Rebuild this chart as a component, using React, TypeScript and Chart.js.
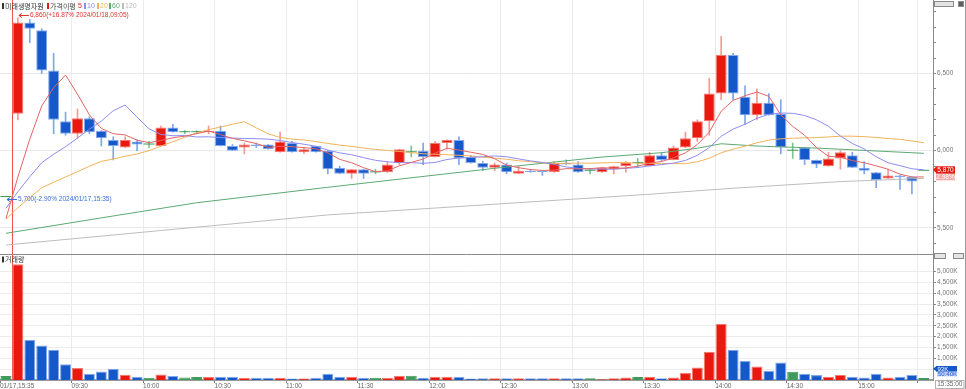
import React, { useEffect, useRef } from "react";
import { Chart, registerables } from "chart.js";

Chart.register(...registerables);

// ---------------- data ----------------
const TIME_LABELS = [
  "01/17,15:35",
  "09:05", "09:10", "09:15", "09:20", "09:25", "09:30", "09:35", "09:40", "09:45", "09:50", "09:55",
  "10:00", "10:05", "10:10", "10:15", "10:20", "10:25", "10:30", "10:35", "10:40", "10:45", "10:50", "10:55",
  "11:00", "11:05", "11:10", "11:15", "11:20", "11:25", "11:30", "11:35", "11:40", "11:45", "11:50", "11:55",
  "12:00", "12:05", "12:10", "12:15", "12:20", "12:25", "12:30", "12:35", "12:40", "12:45", "12:50", "12:55",
  "13:00", "13:05", "13:10", "13:15", "13:20", "13:25", "13:30", "13:35", "13:40", "13:45", "13:50", "13:55",
  "14:00", "14:05", "14:10", "14:15", "14:20", "14:25", "14:30", "14:35", "14:40", "14:45", "14:50", "14:55",
  "15:00", "15:05", "15:10", "15:15", "15:20", "15:30",
];

const OPEN = [
  5700, 6240, 6830, 6780, 6520, 6190, 6110, 6210, 6130, 6070,
  6020, 6060, 6040, 6030, 6150, 6120, 6120, 6120, 6130, 6030,
  6020, 6040, 6040, 5990, 6050, 5990, 6030, 6000, 5890, 5850,
  5880, 5860, 5860, 5920, 5990, 6000, 5960, 6050, 6070, 5960,
  5920, 5890, 5910, 5850, 5870, 5870, 5860, 5920, 5910, 5870,
  5860, 5880, 5900, 5920, 5900, 5970, 5940, 6020, 6080, 6190,
  6370, 6620, 6350, 6230, 6310, 6240, 6000, 6020, 5940, 5900,
  5950, 5970, 5890, 5860, 5820, 5840, 5830, 5870,
];
const HIGH = [
  5700, 6860, 6850, 6790, 6630, 6250, 6270, 6220, 6130, 6090,
  6090, 6070, 6060, 6160, 6170, 6130, 6130, 6160, 6160, 6040,
  6050, 6050, 6040, 6120, 6060, 6020, 6030, 6000, 5900, 5880,
  5880, 5880, 5930, 6010, 6030, 6050, 6060, 6070, 6090, 5970,
  5930, 5920, 5920, 5900, 5880, 5870, 5930, 5940, 5930, 5880,
  5890, 5900, 5930, 5950, 5990, 5990, 6030, 6120, 6200, 6470,
  6740, 6630, 6420, 6400, 6370, 6330, 6050, 6020, 5940, 5990,
  6000, 5990, 5930, 5860, 5880, 5840, 5830, 5870,
];
const LOW = [
  5700, 6200, 6700, 6500, 6110, 6100, 6080, 6110, 6030, 5940,
  6020, 6000, 6020, 6030, 6120, 6110, 6110, 6110, 6030, 6000,
  5980, 6020, 6010, 5990, 5990, 5980, 5990, 5850, 5850, 5820,
  5820, 5850, 5860, 5910, 5960, 5910, 5960, 6010, 5910, 5920,
  5870, 5870, 5850, 5850, 5860, 5840, 5860, 5910, 5860, 5850,
  5860, 5850, 5860, 5890, 5900, 5930, 5940, 6020, 6060, 6100,
  6330, 6330, 6170, 6200, 6230, 5980, 5950, 5910, 5890, 5900,
  5880, 5890, 5850, 5760, 5820, 5750, 5720, 5870,
];
const CLOSE = [
  5700, 6830, 6790, 6520, 6200, 6110, 6210, 6120, 6080, 6030,
  6070, 6040, 6040, 6150, 6120, 6120, 6120, 6130, 6030, 6000,
  6040, 6030, 6010, 6060, 5990, 6010, 5990, 5880, 5850, 5880,
  5850, 5860, 5910, 6010, 5990, 5960, 6050, 6070, 5950, 5920,
  5890, 5910, 5860, 5870, 5860, 5860, 5920, 5910, 5860, 5870,
  5890, 5900, 5920, 5920, 5970, 5940, 6020, 6080, 6190, 6370,
  6620, 6370, 6230, 6310, 6230, 6020, 6000, 5940, 5910, 5950,
  5990, 5890, 5870, 5810, 5840, 5830, 5800, 5870,
];
// volume in thousands of shares
const VOLUME_K = [
  190, 5330, 1850, 1590, 1390, 730, 550, 285, 390, 515,
  240, 150, 100, 255, 180, 115, 135, 135, 150, 150,
  100, 100, 100, 100, 70, 70, 100, 285, 150, 150,
  100, 100, 100, 195, 195, 100, 150, 150, 150, 70,
  80, 80, 80, 80, 80, 80, 80, 80, 80, 80,
  40, 80, 115, 135, 135, 85, 115, 320, 575, 1300,
  2585, 1390, 870, 620, 425, 805, 375, 285, 225, 150,
  225, 150, 115, 285, 115, 150, 225, 93,
];
const MA5 = [
  5560, 5830, 6075, 6290, 6408, 6490, 6366, 6232, 6144, 6110,
  6102, 6068, 6052, 6066, 6084, 6094, 6110, 6128, 6104, 6080,
  6064, 6046, 6022, 6028, 6026, 6020, 6012, 5986, 5944, 5922,
  5890, 5864, 5870, 5902, 5924, 5946, 5984, 6016, 6004, 5990,
  5976, 5948, 5906, 5890, 5878, 5872, 5874, 5884, 5882, 5884,
  5890, 5886, 5888, 5900, 5920, 5930, 5954, 5986, 6040, 6120,
  6256, 6326, 6356, 6380, 6352, 6232, 6158, 6100, 6020, 5964,
  5958, 5936, 5922, 5902, 5880, 5848, 5830, 5830,
];
const MA10 = [
  5627, 5734, 5832, 5922, 5977, 6026, 6082, 6139, 6192, 6259,
  6296, 6217, 6142, 6105, 6097, 6098, 6089, 6090, 6085, 6082,
  6079, 6078, 6075, 6066, 6053, 6042, 6029, 6004, 5986, 5974,
  5955, 5938, 5928, 5923, 5923, 5918, 5924, 5943, 5953, 5957,
  5961, 5966, 5961, 5947, 5934, 5924, 5911, 5895, 5886, 5881,
  5881, 5880, 5886, 5891, 5902, 5910, 5920, 5937, 5970, 6020,
  6093, 6140, 6171, 6210, 6236, 6244, 6242, 6228, 6200, 6158,
  6095, 6047, 6011, 5961, 5922, 5903, 5883, 5876,
];
const MA20 = [
  5556, 5631, 5696, 5760, 5795, 5830, 5864, 5899, 5931, 5946,
  5964, 5979, 6000, 6030, 6058, 6087, 6115, 6136, 6153, 6171,
  6188, 6148, 6109, 6086, 6075, 6070, 6059, 6047, 6036, 6028,
  6017, 6008, 6002, 5995, 5988, 5980, 5977, 5974, 5970, 5966,
  5958, 5952, 5945, 5935, 5929, 5921, 5918, 5919, 5920, 5919,
  5921, 5923, 5924, 5919, 5918, 5917, 5916, 5916, 5928, 5951,
  5987, 6010, 6029, 6051, 6069, 6077, 6081, 6083, 6085, 6089,
  6094, 6094, 6091, 6086, 6079, 6074, 6063, 6052,
];
// long averages read at sample bars
const MA60_IDX = [0, 8, 16, 27, 41, 50, 55, 58, 60, 63, 68, 77];
const MA60_VAL = [5465, 5565, 5663, 5763, 5886, 5959, 5987, 6016, 6045, 6030, 6017, 5983];
const MA120_IDX = [0, 13, 27, 54, 61, 70, 77];
const MA120_VAL = [5389, 5483, 5584, 5718, 5757, 5800, 5821];

const X_TICK_INDEX = [0, 6, 12, 18, 24, 30, 36, 42, 48, 54, 60, 66, 72, 77];
const PRICE_TICKS = [5400, 5500, 5600, 5700, 5800, 5900, 6000, 6100, 6200, 6300, 6400, 6500, 6600, 6700, 6800, 6900];
const PRICE_LABELED = [5500, 6000, 6500];
const VOLUME_TICKS = [500, 1000, 1500, 2000, 2500, 3000, 3500, 4000, 4500, 5000];
const STOCK_NAME = "미래생명자원";
const MA_LABEL = "가격이평";
const MA_PERIODS = ["5", "10", "20", "60", "120"];
const VOLUME_LABEL = "거래량";
const HIGH_NOTE = "6,860(+16.87% 2024/01/18,09:05)";
const LOW_NOTE = "5,700(-2.90% 2024/01/17,15:35)";
const HIGH_NOTE_IDX = 1;
const LOW_NOTE_IDX = 0;
const LAST_PRICE_TEXT = "5,870";
const LAST_RATE_TEXT = "2.98%";
const LAST_VOL_TEXT = "93K";
const VOL_AVG_TEXT = "50.40K";
const CURRENT_TIME = "15:35:00";

// ---------------- styles ----------------
const FONT_NUM = '"Liberation Sans", Arial, sans-serif';
const FONT_KR = '"Noto Sans CJK KR", "Noto Sans", sans-serif';
const FILL = ["#e8190f", "#1558c9", "#3f9a5c"];
const EDGE = ["#f47a70", "#84a8ec", "#3f9a5c"];
const WICK = ["#f39a94", "#7fa6ea", "#7fc292"];
const MA_COLORS = ["#e46464", "#8c8cf2", "#f2b35a", "#5caa72", "#bdbdbd"];

const kindOf = (i: number) => (CLOSE[i] > OPEN[i] ? 0 : CLOSE[i] < OPEN[i] ? 1 : 2);
const fmt = (v: number) => v.toLocaleString("en-US");

function label(ctx: CanvasRenderingContext2D, s: string, x: number, y: number, color: string, font: string, align: CanvasTextAlign = "left") {
  ctx.font = font;
  ctx.fillStyle = color;
  ctx.textAlign = align;
  ctx.textBaseline = "middle";
  ctx.fillText(s, x, y);
}

function arrow(ctx: CanvasRenderingContext2D, tipX: number, y: number, len: number, color: string) {
  ctx.strokeStyle = color;
  ctx.lineWidth = 1;
  ctx.beginPath();
  ctx.moveTo(tipX, y + 0.5);
  ctx.lineTo(tipX + len, y + 0.5);
  ctx.moveTo(tipX + 3, y - 2 + 0.5);
  ctx.lineTo(tipX, y + 0.5);
  ctx.lineTo(tipX + 3, y + 2 + 0.5);
  ctx.stroke();
}

const overlayPlugin = {
  id: "overlay",
  beforeDatasetsDraw(chart: any) {
    const { ctx, chartArea: a, scales } = chart;
    const dx = Math.round(scales.x.getPixelForValue(0.5)) + 0.5;
    ctx.save();
    ctx.strokeStyle = "#f05050";
    ctx.lineWidth = 1;
    ctx.beginPath();
    ctx.moveTo(dx, a.top);
    ctx.lineTo(dx, a.bottom);
    ctx.stroke();
    ctx.restore();
  },
  afterDraw(chart: any) {
    const { ctx, chartArea: a, scales } = chart;
    const xs = scales.x;
    const ys = scales.y;
    ctx.save();
    // panel separator
    const sep = Math.round(ys.bottom) + 0.5;
    ctx.strokeStyle = "#8a8a8a";
    ctx.lineWidth = 1;
    ctx.beginPath();
    ctx.moveTo(a.left, sep);
    ctx.lineTo(a.right, sep);
    ctx.stroke();
    // right border
    ctx.strokeStyle = "#9a9a9a";
    ctx.beginPath();
    ctx.moveTo(965.5, 0);
    ctx.lineTo(965.5, 389);
    ctx.stroke();

    // legend
    const fk = `7px ${FONT_KR}`;
    const fn = `7px ${FONT_NUM}`;
    const ly = 6;
    ctx.fillStyle = "#333";
    ctx.fillRect(2, 3, 2, 6);
    label(ctx, STOCK_NAME, 5, ly, "#333", fk);
    ctx.fillStyle = FILL[0];
    ctx.fillRect(47, 3, 2, 6);
    label(ctx, MA_LABEL, 50, ly, "#444", fk);
    const px = [78, 87, 100, 112, 125];
    MA_PERIODS.forEach((p, k) => {
      if (k > 0) {
        ctx.fillStyle = MA_COLORS[k];
        ctx.fillRect(px[k] - 3, 3, 2, 6);
      }
      label(ctx, p, px[k], ly, k === 0 ? FILL[0] : MA_COLORS[k], fn);
    });
    // volume title
    const vy = sep + 5;
    ctx.fillStyle = "#333";
    ctx.fillRect(2, vy - 3, 2, 6);
    label(ctx, VOLUME_LABEL, 5, vy, "#333", fk);

    // high / low notes
    const fa = `6.5px ${FONT_NUM}`;
    const hx = xs.getPixelForValue(HIGH_NOTE_IDX) + 1;
    const hy = Math.round(ys.getPixelForValue(HIGH[HIGH_NOTE_IDX]) - 3);
    arrow(ctx, hx, hy, 10, "#e0322a");
    label(ctx, HIGH_NOTE, hx + 11, hy + 0.5, "#e0322a", fa);
    const lx = xs.getPixelForValue(LOW_NOTE_IDX) + 1;
    const lyy = Math.round(ys.getPixelForValue(LOW[LOW_NOTE_IDX]) + 2);
    arrow(ctx, lx, lyy, 10, "#3a6fd8");
    label(ctx, LOW_NOTE, lx + 11, lyy + 0.5, "#3a6fd8", fa);

    // last price boxes
    const cy = ys.getPixelForValue(CLOSE[CLOSE.length - 1]) - 1;
    ctx.fillStyle = FILL[0];
    ctx.fillRect(936, cy - 3.5, 19, 7.5);
    ctx.beginPath();
    ctx.moveTo(933, cy);
    ctx.lineTo(936, cy - 3);
    ctx.lineTo(936, cy + 3);
    ctx.closePath();
    ctx.fill();
    label(ctx, LAST_PRICE_TEXT, 945.5, cy + 0.3, "#fff", `6.5px ${FONT_NUM}`, "center");
    ctx.fillStyle = "#f4a8a8";
    ctx.fillRect(936, cy + 4, 19, 6.5);
    label(ctx, LAST_RATE_TEXT, 945.5, cy + 7.3, "#fff", `6.5px ${FONT_NUM}`, "center");

    // volume boxes
    ctx.fillStyle = FILL[1];
    ctx.fillRect(936, 366, 21, 5.7);
    ctx.beginPath();
    ctx.moveTo(933, 368.8);
    ctx.lineTo(936, 366.5);
    ctx.lineTo(936, 371);
    ctx.closePath();
    ctx.fill();
    label(ctx, LAST_VOL_TEXT, 937.5, 369, "#fff", `6px ${FONT_NUM}`);
    ctx.fillStyle = "#bcd0f4";
    ctx.fillRect(937, 371.8, 20, 4.6);
    label(ctx, VOL_AVG_TEXT, 938, 374.2, "#2f63cf", `6px ${FONT_NUM}`);

    // time box
    ctx.fillStyle = "#fff";
    ctx.fillRect(935.5, 380.5, 28.5, 8);
    ctx.strokeStyle = "#b0b0b0";
    ctx.strokeRect(935.5, 380.5, 28.5, 8);
    label(ctx, CURRENT_TIME, 949.8, 384.6, "#666", `6.5px ${FONT_NUM}`, "center");

    // small panel buttons
    const btn = (x: number, y: number, w: number, h: number, fill: string) => {
      ctx.fillStyle = fill;
      ctx.fillRect(x, y, w, h);
      ctx.strokeStyle = "#8a8a8a";
      ctx.strokeRect(x + 0.5, y + 0.5, w - 1, h - 1);
    };
    btn(934, 1, 20, 6, "#e4e4e4");
    btn(958, 1, 6, 6, "#606060");
    btn(934, sep - 1.5, 12, 6, "#e4e4e4");
    btn(953, sep - 1.5, 11, 6, "#e4e4e4");
    ctx.restore();
  },
};

export default function App() {
  const ref = useRef<HTMLCanvasElement | null>(null);

  useEffect(() => {
    document.body.style.margin = "0";
    document.body.style.background = "#fff";
    const canvas = ref.current;
    if (!canvas) return;
    const n = CLOSE.length;
    const idx = Array.from({ length: n }, (_, i) => i);
    const kinds = idx.map(kindOf);

    const lineDs = (vals: { x: number; y: number }[], color: string) => ({
      type: "line" as const,
      data: vals,
      yAxisID: "y",
      borderColor: color,
      borderWidth: 1,
      pointRadius: 0,
      tension: 0,
      fill: false,
      order: 0,
    });

    const tickFont = { family: FONT_NUM, size: 6.5 };

    const chart = new Chart(canvas, {
      type: "bar",
      data: {
        datasets: [
          lineDs(MA5.map((v, i) => ({ x: i, y: v })), MA_COLORS[0]),
          lineDs(MA10.map((v, i) => ({ x: i, y: v })), MA_COLORS[1]),
          lineDs(MA20.map((v, i) => ({ x: i, y: v })), MA_COLORS[2]),
          lineDs(MA60_IDX.map((x, k) => ({ x, y: MA60_VAL[k] })), MA_COLORS[3]),
          lineDs(MA120_IDX.map((x, k) => ({ x, y: MA120_VAL[k] })), MA_COLORS[4]),
          {
            type: "bar",
            data: idx.map((i) => ({ x: i, y: [OPEN[i], CLOSE[i]] })),
            yAxisID: "y",
            backgroundColor: kinds.map((k) => FILL[k]),
            borderColor: kinds.map((k) => EDGE[k]),
            borderWidth: kinds.map((k) => (k === 2 ? 0 : 1)),
            borderSkipped: false,
            minBarLength: 1,
            barPercentage: 0.92,
            categoryPercentage: 1,
            grouped: false,
            order: 1,
          } as any,
          {
            type: "bar",
            data: idx.map((i) => ({ x: i, y: [LOW[i], HIGH[i]] })),
            yAxisID: "y",
            backgroundColor: kinds.map((k) => WICK[k]),
            barThickness: 1,
            grouped: false,
            order: 2,
          } as any,
          {
            type: "bar",
            data: idx.map((i) => ({ x: i, y: VOLUME_K[i] })),
            yAxisID: "yv",
            backgroundColor: kinds.map((k) => FILL[k]),
            borderColor: kinds.map((k) => EDGE[k]),
            borderWidth: { top: 1, left: 1, right: 1, bottom: 0 },
            borderSkipped: "start",
            barPercentage: 0.92,
            categoryPercentage: 1,
            grouped: false,
            order: 1,
          } as any,
        ],
      },
      options: {
        responsive: false,
        animation: false,
        devicePixelRatio: 1,
        events: [],
        layout: { padding: 0 },
        plugins: { legend: { display: false }, tooltip: { enabled: false } },
        scales: {
          x: {
            type: "linear",
            min: -0.5,
            max: 77.77,
            offset: false,
            bounds: "data",
            afterBuildTicks: (s: any) => {
              s.ticks = X_TICK_INDEX.map((i) => ({ value: i - 0.5 }));
            },
            afterFit: (s: any) => {
              s.height = 9;
              s.paddingLeft = 0;
              s.paddingRight = 0;
            },
            ticks: {
              autoSkip: false,
              maxRotation: 0,
              minRotation: 0,
              align: "start",
              padding: -1,
              color: "#666",
              font: tickFont,
              callback: (v: any) => {
                const i = Math.round(Number(v) + 0.5);
                return i === n - 1 ? "" : TIME_LABELS[i];
              },
            },
            grid: {
              color: (c: any) => (c.tick && c.tick.value < 0 ? "rgba(0,0,0,0)" : "#ececec"),
              tickLength: 3,
              tickColor: "#777",
              offset: false,
            },
            border: { display: true, color: "#9a9a9a", width: 2 },
          },
          y: {
            type: "linear",
            position: "right",
            stack: "panels",
            stackWeight: 254,
            min: 5331,
            max: 6976,
            bounds: "data",
            afterBuildTicks: (s: any) => {
              s.ticks = PRICE_TICKS.map((v) => ({ value: v }));
            },
            afterFit: (s: any) => {
              s.width = 33;
              s.paddingTop = 0;
              s.paddingBottom = 0;
            },
            ticks: {
              autoSkip: false,
              padding: 1,
              color: "#777",
              font: tickFont,
              callback: (v: any) => (PRICE_LABELED.includes(Number(v)) ? fmt(Number(v)) : ""),
            },
            grid: {
              color: (c: any) => (c.tick && PRICE_LABELED.includes(c.tick.value) ? "#e8e8e8" : "rgba(0,0,0,0)"),
              tickLength: 3,
              tickColor: "#8a8a8a",
            },
            border: { display: true, color: "#8a8a8a", width: 1 },
          },
          yv: {
            type: "linear",
            position: "right",
            stack: "panels",
            stackWeight: 126,
            min: 0,
            max: 5806,
            bounds: "data",
            afterBuildTicks: (s: any) => {
              s.ticks = VOLUME_TICKS.map((v) => ({ value: v }));
            },
            afterFit: (s: any) => {
              s.width = 33;
              s.paddingTop = 0;
              s.paddingBottom = 0;
            },
            ticks: {
              autoSkip: false,
              padding: 1,
              color: "#777",
              font: tickFont,
              callback: (v: any) => fmt(Number(v)) + "K",
            },
            grid: {
              color: "#ececec",
              tickLength: 3,
              tickColor: "#8a8a8a",
            },
            border: { display: true, color: "#8a8a8a", width: 1 },
          },
        },
      } as any,
      plugins: [overlayPlugin],
    });
    return () => chart.destroy();
  }, []);

  return (
    <div style={{ position: "fixed", left: 0, top: 0, width: 966, height: 389, background: "#fff" }}>
      <canvas ref={ref} width={966} height={389} style={{ display: "block", width: 966, height: 389 }} />
    </div>
  );
}
